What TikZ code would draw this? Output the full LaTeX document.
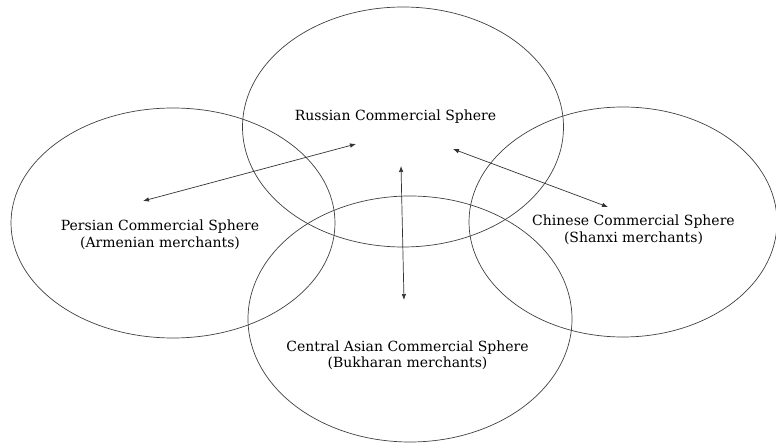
\documentclass[tikz,border=0pt]{standalone}
\usepackage{fontspec}
\setmainfont{DejaVu Serif}
\usetikzlibrary{arrows.meta,shapes.geometric}
\begin{document}
\begin{tikzpicture}[x=1pt,y=-1pt,
  sphere/.style={draw=black!75, line width=0.7pt, ellipse, inner sep=0pt},
  sphtext/.style={align=center, font=\fontsize{14}{16.5}\selectfont, text=black, inner sep=0pt},
  link/.style={draw=black!80, line width=0.7pt, {Latex[length=6pt,width=4.5pt]}-{Latex[length=6pt,width=4.5pt]}}]
\useasboundingbox (0,0) rectangle (776,443);
\node[sphere, minimum width=321pt, minimum height=240pt] (russia) at (403,127) {};
\node[sphere, minimum width=324pt, minimum height=230pt] (persia) at (173,223) {};
\node[sphere, minimum width=308pt, minimum height=230pt] (china) at (623,222) {};
\node[sphere, minimum width=324pt, minimum height=246pt] (casia) at (410,319) {};
\node[sphtext] (tr) at (395.5,117) {Russian Commercial Sphere};
\node[sphtext] (tp) at (160,235) {Persian Commercial Sphere\\(Armenian merchants)};
\node[sphtext] (tc) at (633.5,230) {Chinese Commercial Sphere\\(Shanxi merchants)};
\node[sphtext] (ta) at (407.5,355.5) {Central Asian Commercial Sphere\\(Bukharan merchants)};
\coordinate (pr1) at (143,201);
\coordinate (pr2) at (356,144);
\coordinate (ar1) at (401,166);
\coordinate (ar2) at (404,300);
\coordinate (cr1) at (453,149);
\coordinate (cr2) at (608,207);
\draw[link] (pr1) -- (pr2);
\draw[link] (ar1) -- (ar2);
\draw[link] (cr1) -- (cr2);
\end{tikzpicture}
\end{document}
